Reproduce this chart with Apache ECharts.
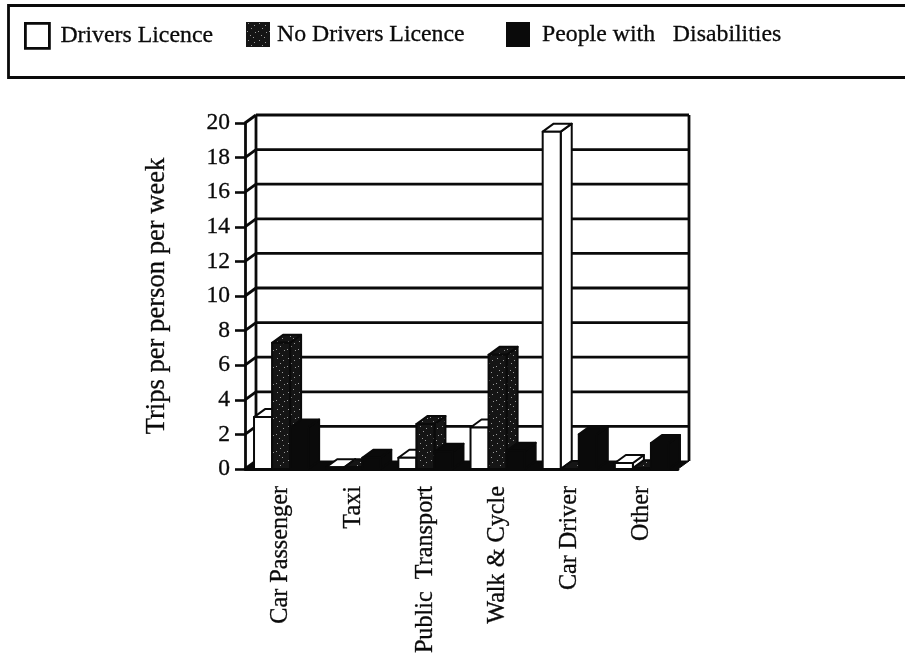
<!DOCTYPE html>
<html>
<head>
<meta charset="utf-8">
<style>html,body{margin:0;padding:0;background:#fff}#c{width:905px;height:654px}</style>
<script src="https://cdn.jsdelivr.net/npm/echarts@6/dist/echarts.min.js"></script>
</head>
<body>
<div id="c"></div>
<script>
var categories = ['Car Passenger', 'Taxi', 'Public  Transport', 'Walk & Cycle', 'Car Driver', 'Other'];
var seriesNames = ['Drivers Licence', 'No Drivers Licence', 'People with   Disabilities'];
var driversLicence = [3.0, 0.1, 0.65, 2.4, 19.5, 0.35];
var noDriversLicence = [7.3, 0.1, 2.6, 6.6, 0, 0.05];
var peopleWithDisabilities = [2.4, 0.65, 1.0, 1.05, 2.0, 1.5];
var yTicks = [0, 2, 4, 6, 8, 10, 12, 14, 16, 18, 20];

var DX = 11, DY = -8, INK = '#0a0a0a', LW = 2.8, FONT = '"Liberation Serif","Times New Roman",serif';
var TEXT_BOLD = { textBorderColor: INK, textBorderWidth: 0.3 };

// speckled tile for the "No Drivers Licence" fill
var tile = document.createElement('canvas');
tile.width = 11; tile.height = 17;
var t = tile.getContext('2d');
t.fillStyle = '#151515'; t.fillRect(0, 0, 11, 17);
t.fillStyle = '#9a9a9a';
[[2,1],[8,3],[5,6],[1,9],[9,10],[4,13],[7,15]].forEach(function (p) { t.fillRect(p[0], p[1], 1, 1); });
var speckle = { image: tile, repeat: 'repeat' };

var fills = ['#ffffff', speckle, '#0a0a0a'];

function poly(points, fill, width) {
  return { type: 'polygon', shape: { points: points },
    style: { fill: fill, stroke: INK, lineWidth: width === undefined ? 2 : width, lineJoin: 'round' } };
}
function line(a, b, w) {
  return { type: 'line', shape: { x1: a[0], y1: a[1], x2: b[0], y2: b[1] },
    style: { stroke: INK, lineWidth: w || LW, fill: null } };
}

function barRenderer(idx) {
  return function (params, api) {
    var c = api.value(0), v = api.value(1);
    var band = api.size([1, 0])[0];
    var base = api.coord([c, 0]), top = api.coord([c, v]);
    var w = band * 0.25;
    var x0 = base[0] - band / 2 + band * 0.125 + idx * w, x1 = x0 + w;
    var yT = top[1], yB = base[1];
    var fill = fills[idx];
    var children = [
      poly([[x1, yB], [x1 + DX, yB + DY], [x1 + DX, yT + DY], [x1, yT]], fill),
      poly([[x0, yT], [x0 + DX, yT + DY], [x1 + DX, yT + DY], [x1, yT]], fill),
      poly([[x0, yB], [x1, yB], [x1, yT], [x0, yT]], fill)
    ];
    return { type: 'group', children: children };
  };
}

function wallRenderer(params, api) {
  var v = api.value(0);
  var grid = params.coordSys;
  var l = api.coord([0, v]);
  var xL = grid.x, xR = grid.x + grid.width, y = l[1];
  var kids = [];
  if (v === 0) {
    kids.push(poly([[xL, y], [xL + DX, y + DY], [xR + DX, y + DY], [xR, y]], INK, 1));
  } else {
    kids.push(line([xL + DX, y + DY], [xR + DX, y + DY]));
  }
  kids.push(line([xL, y], [xL + DX, y + DY]));
  if (v === yTicks[yTicks.length - 1]) {
    var y0 = api.coord([0, 0])[1];
    kids.push(line([xL + DX, y + DY], [xL + DX, y0 + DY]));
    kids.push(line([xR + DX, y + DY], [xR + DX, y0 + DY]));
  }
  return { type: 'group', children: kids };
}

var seriesData = [driversLicence, noDriversLicence, peopleWithDisabilities];
var series = [{
  type: 'custom', name: 'walls', silent: true,
  renderItem: wallRenderer, data: yTicks.map(function (v) { return [v]; }),
  encode: { y: 0 }, clip: false
}];
seriesData.forEach(function (vals, i) {
  series.push({
    type: 'custom', name: seriesNames[i], clip: false,
    itemStyle: { color: i === 0 ? '#fff' : INK },
    renderItem: barRenderer(i),
    data: vals.map(function (v, c) { return [c, v]; }),
    encode: { x: 0, y: 1 }
  });
});

var legendLefts = [24, 246, 506];
var legendGaps = [11, 7, 12];
var legends = seriesNames.map(function (n, i) {
  return {
    show: true, left: legendLefts[i], top: 22, padding: 0, selectedMode: false,
    itemWidth: 24, itemHeight: 25,
    data: [{ name: n, icon: 'rect',
      itemStyle: { color: fills[i], borderColor: INK, borderWidth: i === 0 ? 2.8 : 0 } }],
    textStyle: Object.assign({ fontFamily: FONT, fontSize: 23.8, color: INK,
      padding: [6, 0, 0, legendGaps[i] - 5] }, TEXT_BOLD)
  };
});

var chart = echarts.init(document.getElementById('c'), null, { renderer: 'canvas' });
chart.setOption({
  animation: false,
  backgroundColor: '#fff',
  graphic: [{ type: 'rect', silent: true, z: -1,
    shape: { x: 8.5, y: 5.5, width: 910, height: 72 },
    style: { fill: '#fff', stroke: INK, lineWidth: 2.8 } }],
  legend: legends,
  grid: { left: 245, right: 227, top: 123, bottom: 185, outerBoundsMode: 'none' },
  xAxis: {
    type: 'category', data: categories, boundaryGap: true,
    axisLine: { lineStyle: { color: INK, width: 2.8 } },
    axisTick: { length: 9, lineStyle: { color: INK, width: 2.6 } },
    axisLabel: Object.assign({ rotate: 90, margin: 17, interval: 0, fontFamily: FONT, fontSize: 24.2, color: INK, hideOverlap: false }, TEXT_BOLD),
    splitLine: { show: false }
  },
  yAxis: {
    type: 'value', min: 0, max: 20, interval: 2,
    name: 'Trips per person per week', nameLocation: 'middle', nameGap: 74,
    nameRotate: 90,
    nameTextStyle: Object.assign({ fontFamily: FONT, fontSize: 26.6, color: INK }, TEXT_BOLD),
    axisLine: { show: true, lineStyle: { color: INK, width: 2.8 } },
    axisTick: { show: true, length: 10, lineStyle: { color: INK, width: 2.6 } },
    axisLabel: Object.assign({ margin: 15, fontFamily: FONT, fontSize: 23.5, color: INK }, TEXT_BOLD),
    splitLine: { show: false }
  },
  series: series
});
</script>
</body>
</html>
